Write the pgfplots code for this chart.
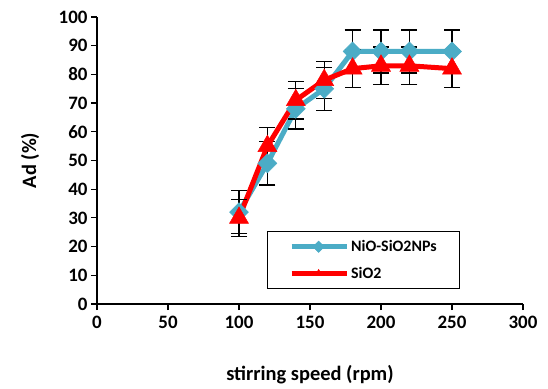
\documentclass[border=0pt]{standalone}
\usepackage{fontspec}
\setmainfont{Carlito}
\usepackage{pgfplots}
\pgfplotsset{compat=1.18}
\definecolor{cy}{RGB}{75,172,198}
\begin{document}
\begin{tikzpicture}
\useasboundingbox (0,0) rectangle (548bp,389bp);
\begin{axis}[
  at={(97bp,85bp)}, anchor=south west,
  scale only axis, width=426bp, height=287bp,
  xmin=0, xmax=300, ymin=0, ymax=100,
  xtick={0,50,...,300}, ytick={0,10,...,100},
  axis lines=left, axis line style={-, line width=1.2bp},
  tick style={line width=1.2bp, black}, tick align=outside,
  major tick length=6bp,
  /pgf/number format/assume math mode=true,
  tick label style={font=\fontsize{19}{22}\selectfont\bfseries},
  xticklabel style={yshift=-3bp},
  label style={font=\fontsize{20.5}{24}\selectfont\bfseries},
  xlabel={stirring speed (rpm)},
  ylabel={Ad (\%)},
  xlabel style={at={(axis description cs:0.5,-0.247)}, anchor=center},
  ylabel style={at={(axis description cs:-0.157,0.5)}, anchor=center},
  legend style={at={(axis description cs:0.398,0.255)}, anchor=north west,
    draw=black, line width=1.2bp, font=\fontsize{16}{18}\selectfont\bfseries,
    inner xsep=8bp, inner ysep=7bp, row sep=10bp, text width=98bp},
  legend cell align=left,
  legend image code/.code={\path (0bp,0bp); \draw[#1, mark repeat=2, mark phase=2, mark size=4bp] plot coordinates {(14bp,0bp) (41bp,0bp) (69bp,0bp)};},
  error bars/y dir=both, error bars/y explicit,
  error bars/error bar style={black, line width=1.3bp},
  error bars/error mark options={black, line width=1.3bp, mark size=8bp, rotate=90},
]
\addplot[cy, line width=5bp, mark=square*, mark size=6.7bp, mark options={rotate=45, fill=cy, draw=cy, line width=0.5bp}]
  coordinates {
  (100,32) +- (0,7.5)
  (120,49) +- (0,7.5)
  (140,68) +- (0,7)
  (160,75) +- (0,7.5)
  (180,88) +- (0,7.5)
  (200,88) +- (0,7.5)
  (220,88) +- (0,7.5)
  (250,88) +- (0,7.5)
  };
\addlegendentry{NiO-SiO2NPs}
\addplot[red, line width=5bp, mark=triangle*, mark size=11bp, mark options={fill=red, draw=red, line width=0.5bp}]
  coordinates {
  (100,30) +- (0,6.5)
  (120,55) +- (0,6.5)
  (140,71) +- (0,6.5)
  (160,78) +- (0,6.5)
  (180,82) +- (0,6.5)
  (200,83) +- (0,6.5)
  (220,83) +- (0,6.5)
  (250,82) +- (0,6.5)
  };
\addlegendentry{SiO2}
\end{axis}
\end{tikzpicture}
\end{document}
